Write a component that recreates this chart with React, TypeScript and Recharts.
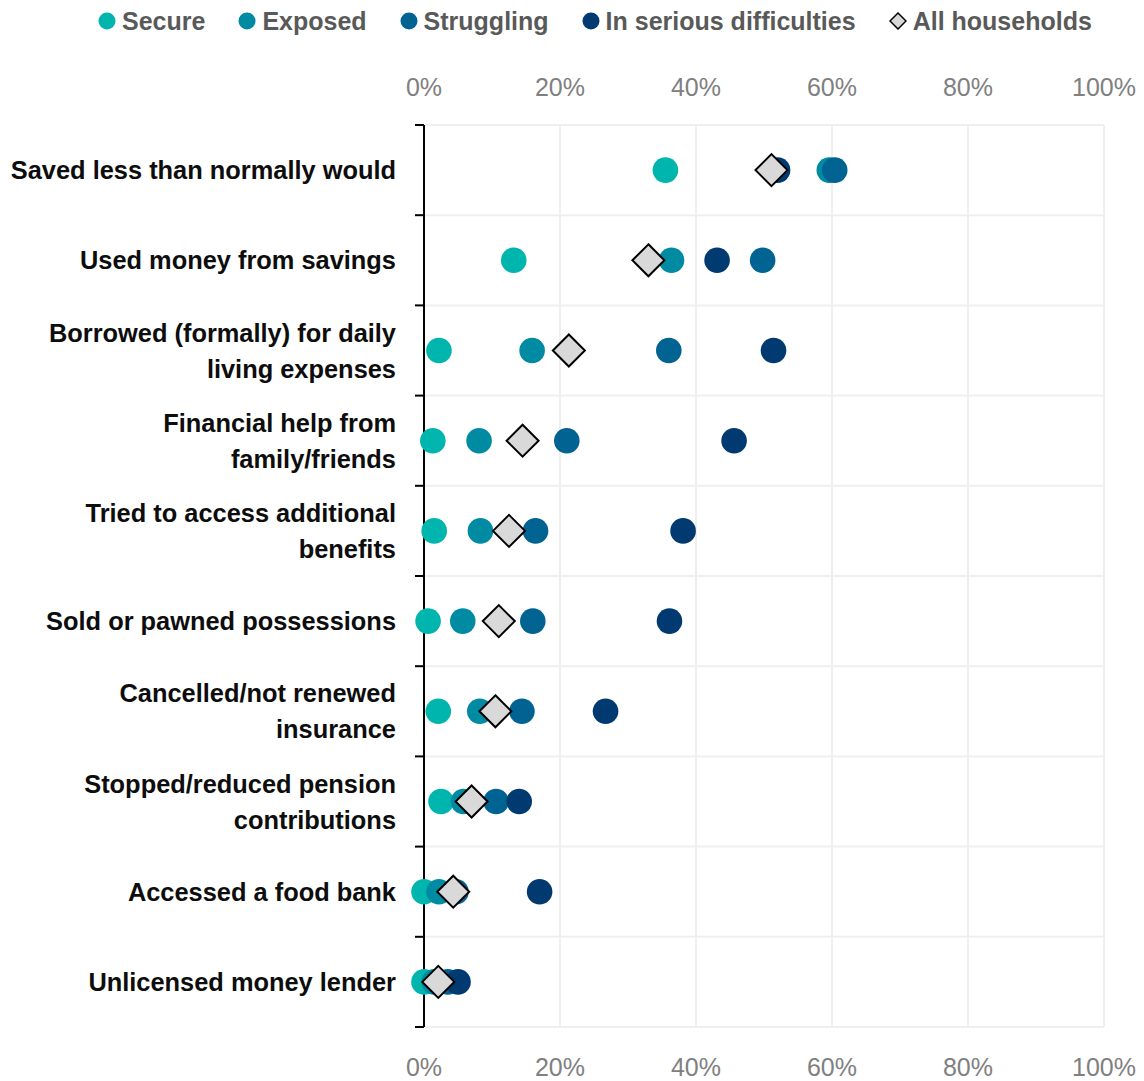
import React from "react";
import {
  ScatterChart,
  Scatter,
  XAxis,
  YAxis,
  CartesianGrid,
  Legend,
} from "recharts";

// Row labels, top to bottom ("\n" marks the line break used in the source)
const categories = [
  "Saved less than normally would",
  "Used money from savings",
  "Borrowed (formally) for daily\nliving expenses",
  "Financial help from\nfamily/friends",
  "Tried to access additional\nbenefits",
  "Sold or pawned possessions",
  "Cancelled/not renewed\ninsurance",
  "Stopped/reduced pension\ncontributions",
  "Accessed a food bank",
  "Unlicensed money lender",
];

// % of households in each group, same order as categories
const secure = [35.5, 13.2, 2.2, 1.3, 1.5, 0.6, 2.1, 2.5, 0.0, 0.0];
const exposed = [59.6, 36.4, 15.9, 8.1, 8.3, 5.7, 8.2, 5.8, 2.2, 1.5];
const struggling = [60.4, 49.8, 36.0, 21.0, 16.4, 16.0, 14.4, 10.6, 4.7, 3.5];
const serious = [52.0, 43.1, 51.4, 45.6, 38.1, 36.1, 26.7, 14.0, 17.0, 5.0];
const allHouseholds = [51.1, 33.0, 21.3, 14.5, 12.5, 11.0, 10.5, 7.0, 4.3, 2.1];

const xTicks = [0, 20, 40, 60, 80, 100];

const FONT = '"Liberation Sans", Arial, sans-serif';

const toPoints = (values: number[]) =>
  values.map((v, i) => ({ x: v, y: i + 0.5 }));

const series = [
  { name: "Secure", color: "#00B5AD", values: secure },
  { name: "Exposed", color: "#008BA3", values: exposed },
  { name: "Struggling", color: "#006391", values: struggling },
  { name: "In serious difficulties", color: "#003A70", values: serious },
];

const rowTicks = categories.map((_, i) => i + 0.5);
const boundaryTicks = categories.map((_, i) => i).concat(categories.length);

// Category label, right aligned, split on line breaks
const RowLabel = ({ x, y, payload }: any) => {
  const idx = Math.floor(payload.value);
  const lines = (categories[idx] || "").split("\n");
  const lh = 36;
  const start = -((lines.length - 1) * lh) / 2;
  return (
    <text
      x={x}
      y={y}
      textAnchor="end"
      fontFamily={FONT}
      fontSize={25.4}
      fontWeight="bold"
      fill="#0D0D0D"
    >
      {lines.map((l, i) => (
        <tspan key={i} x={x} dy={i === 0 ? start + 9 : lh}>
          {l}
        </tspan>
      ))}
    </text>
  );
};

const NoTick = () => <g />;

const Dot = (props: any) => {
  const { cx, cy, fill } = props;
  if (cx == null || cy == null) return null;
  return <circle cx={cx} cy={cy} r={12.8} fill={fill} />;
};

const Diamond = (props: any) => {
  const { cx, cy } = props;
  if (cx == null || cy == null) return null;
  const r = 16;
  return (
    <polygon
      points={`${cx},${cy - r} ${cx + r},${cy} ${cx},${cy + r} ${cx - r},${cy}`}
      fill="#D9D9D9"
      stroke="#000"
      strokeWidth={2}
    />
  );
};

const LegendContent = () => {
  const items = [
    ...series.map((s) => ({ name: s.name, color: s.color, diamond: false })),
    { name: "All households", color: "#D9D9D9", diamond: true },
  ];
  return (
    <div
      style={{
        display: "flex",
        alignItems: "center",
        paddingLeft: 98,
        height: 42,
        fontFamily: FONT,
        fontSize: 25,
        fontWeight: "bold",
        color: "#595959",
      }}
    >
      {items.map((it) => (
        <div
          key={it.name}
          style={{ display: "flex", alignItems: "center", marginRight: 33 }}
        >
          <svg width={18} height={18} style={{ marginRight: 6 }}>
            {it.diamond ? (
              <polygon
                points="9,1 17,9 9,17 1,9"
                fill={it.color}
                stroke="#000"
                strokeWidth={1.5}
              />
            ) : (
              <circle cx={9} cy={9} r={8.5} fill={it.color} />
            )}
          </svg>
          <span>{it.name}</span>
        </div>
      ))}
    </div>
  );
};

const App = () => {
  const tickStyle = { fontFamily: FONT, fontSize: 25, fill: "#808080" };
  return (
    <div style={{ width: 1144, height: 1081 }}>
      <style>{`body { margin: 0; }`}</style>
      <ScatterChart
        width={1144}
        height={1081}
        margin={{ top: 0, right: 40, bottom: 0, left: 0 }}
      >
        <CartesianGrid
          xAxisId="bottom"
          yAxisId="grid"
          stroke="#EFEFEF"
          strokeWidth={2}
        />
        <XAxis
          xAxisId="top"
          orientation="top"
          type="number"
          dataKey="x"
          domain={[0, 100]}
          ticks={xTicks}
          tickFormatter={(v) => `${v}%`}
          axisLine={false}
          tickLine={false}
          tickMargin={23}
          height={83}
          tick={tickStyle}
        />
        <XAxis
          xAxisId="bottom"
          orientation="bottom"
          type="number"
          dataKey="x"
          domain={[0, 100]}
          ticks={xTicks}
          tickFormatter={(v) => `${v}%`}
          axisLine={false}
          tickLine={false}
          tickMargin={25}
          height={54}
          tick={tickStyle}
        />
        <YAxis
          yAxisId="grid"
          type="number"
          dataKey="y"
          domain={[0, categories.length]}
          ticks={boundaryTicks}
          interval={0}
          reversed
          width={10}
          tick={<NoTick />}
          tickSize={9}
          axisLine={{ stroke: "#000", strokeWidth: 2 }}
          tickLine={{ stroke: "#000", strokeWidth: 2 }}
        />
        <YAxis
          yAxisId="rows"
          type="number"
          dataKey="y"
          domain={[0, categories.length]}
          ticks={rowTicks}
          reversed
          width={414}
          axisLine={false}
          tickLine={false}
          tickMargin={12}
          tick={<RowLabel />}
          interval={0}
        />
        <Legend
          verticalAlign="top"
          align="left"
          content={<LegendContent />}
          wrapperStyle={{ top: 0, left: 0, width: 1144, height: 42 }}
        />
        {/* invisible series so the top axis and the row-boundary axis get a domain */}
        <Scatter
          data={toPoints(allHouseholds)}
          xAxisId="top"
          yAxisId="grid"
          shape={() => null}
          legendType="none"
          isAnimationActive={false}
        />
        {series.map((s) => (
          <Scatter
            key={s.name}
            name={s.name}
            data={toPoints(s.values)}
            xAxisId="bottom"
            yAxisId="rows"
            fill={s.color}
            shape={<Dot />}
            isAnimationActive={false}
          />
        ))}
        <Scatter
          name="All households"
          data={toPoints(allHouseholds)}
          xAxisId="bottom"
          yAxisId="rows"
          fill="#D9D9D9"
          shape={<Diamond />}
          legendType="diamond"
          isAnimationActive={false}
        />
      </ScatterChart>
    </div>
  );
};

export default App;
